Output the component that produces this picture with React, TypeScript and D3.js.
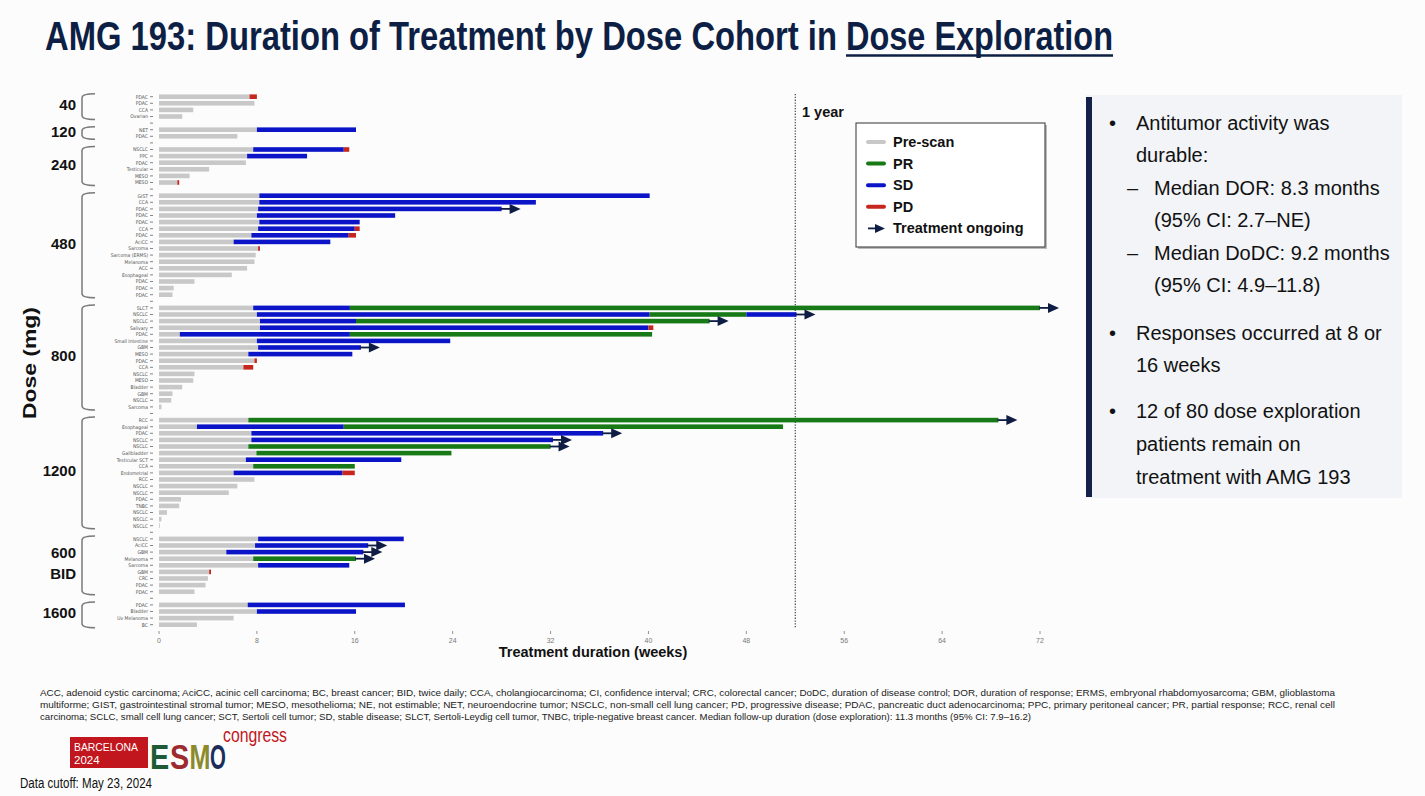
import React from "react";
import * as d3 from "d3";

type Seg = [string, number];
type Patient = [string, number, Seg[], boolean];

// [tumor type, pre-scan end (weeks), response segments [status, end week], treatment ongoing]
const dose40: Patient[] = [
  ["PDAC", 7.4, [["PD", 8.0]], false],
  ["PDAC", 7.8, [], false],
  ["CCA", 2.8, [], false],
  ["Ovarian", 1.9, [], false],
];
const dose120: Patient[] = [
  ["NET", 8.0, [["SD", 16.1]], false],
  ["PDAC", 6.4, [], false],
];
const dose240: Patient[] = [
  ["NSCLC", 7.7, [["SD", 15.1], ["PD", 15.55]], false],
  ["PPC", 7.2, [["SD", 12.1]], false],
  ["PDAC", 7.1, [], false],
  ["Testicular", 4.1, [], false],
  ["MESO", 2.5, [], false],
  ["MESO", 1.5, [["PD", 1.65]], false],
];
const dose480: Patient[] = [
  ["GIST", 8.2, [["SD", 40.1]], false],
  ["CCA", 8.2, [["SD", 30.8]], false],
  ["PDAC", 8.1, [["SD", 28.0]], true],
  ["PDAC", 8.0, [["SD", 19.3]], false],
  ["PDAC", 8.2, [["SD", 16.4]], false],
  ["CCA", 8.1, [["SD", 16.0], ["PD", 16.4]], false],
  ["PDAC", 7.55, [["SD", 15.5], ["PD", 16.1]], false],
  ["AciCC", 6.1, [["SD", 14.0]], false],
  ["Sarcoma", 8.1, [["PD", 8.25]], false],
  ["Sarcoma (ERMS)", 7.9, [], false],
  ["Melanoma", 7.8, [], false],
  ["ACC", 7.2, [], false],
  ["Esophageal", 5.95, [], false],
  ["PDAC", 2.9, [], false],
  ["PDAC", 1.2, [], false],
  ["PDAC", 1.1, [], false],
];
const dose800: Patient[] = [
  ["SLCT", 7.7, [["SD", 15.6], ["PR", 72.0]], true],
  ["NSCLC", 8.0, [["SD", 40.1], ["PR", 48.0], ["SD", 52.1]], true],
  ["NSCLC", 8.25, [["SD", 16.1], ["PR", 45.0]], true],
  ["Salivary", 8.25, [["SD", 40.0], ["PD", 40.4]], false],
  ["PDAC", 1.7, [["SD", 15.6], ["PR", 40.3]], false],
  ["Small Intestine", 8.0, [["SD", 23.8]], false],
  ["GBM", 8.1, [["SD", 16.5]], true],
  ["MESO", 7.3, [["SD", 15.8]], false],
  ["PDAC", 7.8, [["PD", 8.0]], false],
  ["CCA", 6.9, [["PD", 7.7]], false],
  ["NSCLC", 2.9, [], false],
  ["MESO", 2.8, [], false],
  ["Bladder", 1.9, [], false],
  ["GBM", 1.1, [], false],
  ["NSCLC", 1.0, [], false],
  ["Sarcoma", 0.2, [], false],
];
const dose1200: Patient[] = [
  ["RCC", 7.3, [["PR", 68.6]], true],
  ["Esophageal", 3.1, [["SD", 15.1], ["PR", 51.0]], false],
  ["PDAC", 7.55, [["SD", 36.3]], true],
  ["NSCLC", 7.55, [["SD", 32.2]], true],
  ["NSCLC", 7.3, [["PR", 32.0]], true],
  ["Gallbladder", 7.96, [["PR", 23.9]], false],
  ["Testicular SCT", 7.1, [["SD", 19.8]], false],
  ["CCA", 7.7, [["PR", 16.0]], false],
  ["Endometrial", 6.1, [["SD", 15.0], ["PD", 16.0]], false],
  ["RCC", 7.8, [], false],
  ["NSCLC", 6.4, [], false],
  ["NSCLC", 5.7, [], false],
  ["PDAC", 1.8, [], false],
  ["TNBC", 1.65, [], false],
  ["NSCLC", 0.65, [], false],
  ["NSCLC", 0.2, [], false],
  ["NSCLC", 0.05, [], false],
];
const dose600bid: Patient[] = [
  ["NSCLC", 8.1, [["SD", 20.0]], false],
  ["AciCC", 7.85, [["SD", 17.1]], true],
  ["GBM", 5.5, [["SD", 16.7]], true],
  ["Melanoma", 7.7, [["PR", 16.1]], true],
  ["Sarcoma", 8.1, [["SD", 15.55]], false],
  ["GBM", 4.1, [["PD", 4.25]], false],
  ["CRC", 4.0, [], false],
  ["PDAC", 3.8, [], false],
  ["PDAC", 2.9, [], false],
];
const dose1600: Patient[] = [
  ["PDAC", 7.25, [["SD", 20.1]], false],
  ["Bladder", 8.0, [["SD", 16.1]], false],
  ["Uv Melanoma", 6.1, [], false],
  ["BC", 3.1, [], false],
];

const cohortLabels: string[][] = [["40"], ["120"], ["240"], ["480"], ["800"], ["1200"], ["600", "BID"], ["1600"]];
const cohorts: Patient[][] = [dose40, dose120, dose240, dose480, dose800, dose1200, dose600bid, dose1600];

const weekTicks = [0, 8, 16, 24, 32, 40, 48, 56, 64, 72];
const oneYearWeeks = 52;

const legendLabels = ["Pre-scan", "PR", "SD", "PD", "Treatment ongoing"];
const legendKeys = ["Pre", "PR", "SD", "PD", "Arrow"];

const colors: Record<string, string> = {
  Pre: "#c8c8c8",
  PR: "#177a17",
  SD: "#0b14c6",
  PD: "#c6261d",
  Arrow: "#0f1d45",
};

const titleText = "AMG 193: Duration of Treatment by Dose Cohort in";
const titleUnderlined = "Dose Exploration";

const panelLines: [string, string, number][] = [
  ["bullet", "Antitumor activity was", 130],
  ["cont", "durable:", 162],
  ["dash", "Median DOR: 8.3 months", 195],
  ["cont2", "(95% CI: 2.7\u2013NE)", 227],
  ["dash", "Median DoDC: 9.2 months", 260],
  ["cont2", "(95% CI: 4.9\u201311.8)", 292],
  ["bullet", "Responses occurred at 8 or", 340],
  ["cont", "16 weeks", 372],
  ["bullet", "12 of 80 dose exploration", 418],
  ["cont", "patients remain on", 451],
  ["cont", "treatment with AMG 193", 484],
];

const footnotes = [
  "ACC, adenoid cystic carcinoma; AciCC, acinic cell carcinoma; BC, breast cancer; BID, twice daily; CCA, cholangiocarcinoma; CI, confidence interval; CRC, colorectal cancer; DoDC, duration of disease control; DOR, duration of response; ERMS, embryonal rhabdomyosarcoma; GBM, glioblastoma",
  "multiforme; GIST, gastrointestinal stromal tumor; MESO, mesothelioma; NE, not estimable; NET, neuroendocrine tumor; NSCLC, non-small cell lung cancer; PD, progressive disease; PDAC, pancreatic duct adenocarcinoma; PPC, primary peritoneal cancer; PR, partial response; RCC, renal cell",
  "carcinoma; SCLC, small cell lung cancer; SCT, Sertoli cell tumor; SD, stable disease; SLCT, Sertoli-Leydig cell tumor, TNBC, triple-negative breast cancer. Median follow-up duration (dose exploration): 11.3 months (95% CI: 7.9\u201316.2)",
];
const footnoteWidths = [1295, 1295, 991];

// letter, colour, x position, horizontal scale
const esmoLetters: [string, string, number, number][] = [
  ["E", "#1e5a36", 150, 1.2],
  ["S", "#9c2a2e", 170, 1.2],
  ["M", "#8b8a2c", 189.5, 1.05],
  ["O", "#1b2d5a", 210, 0.85],
];

const SANS = "'Liberation Sans', Arial, sans-serif";
const SMALL = "'DejaVu Sans Condensed', 'Liberation Sans', Arial, sans-serif";

type Row = { key: string; p: Patient | null; ci: number };

export default function App() {
  const rows: Row[] = [];
  cohorts.forEach((pts, ci) => {
    pts.forEach((p, i) => rows.push({ key: `${ci}-${i}`, p, ci }));
    if (ci < cohorts.length - 1) rows.push({ key: `gap-${ci}`, p: null, ci });
  });

  const x = d3.scaleLinear().domain([0, 72]).range([159, 1040]);
  const y = d3.scalePoint<string>().domain(rows.map((r) => r.key)).range([96.7, 624.7]);
  const barH = 4.6;

  const bars: JSX.Element[] = [];
  const arrows: JSX.Element[] = [];
  rows.forEach((r) => {
    if (!r.p) return;
    const [, pre, segs, ongoing] = r.p;
    const yc = y(r.key)!;
    bars.push(
      <rect key={r.key + "pre"} x={x(0)} y={yc - barH / 2} width={Math.max(0.8, x(pre) - x(0))} height={barH} fill={colors.Pre} />
    );
    let start = pre;
    segs.forEach(([s, end], j) => {
      bars.push(
        <rect key={r.key + "s" + j} x={x(start)} y={yc - barH / 2} width={Math.max(1, x(end) - x(start))} height={barH} fill={colors[s]} />
      );
      start = end;
    });
    if (ongoing) {
      const xe = x(start);
      arrows.push(
        <g key={r.key + "arr"}>
          <line x1={xe - 1} x2={xe + 10} y1={yc} y2={yc} stroke={colors.Arrow} strokeWidth={1.8} />
          <polygon points={`${xe + 8},${yc - 5} ${xe + 19},${yc} ${xe + 8},${yc + 5}`} fill={colors.Arrow} />
        </g>
      );
    }
  });

  const brackets = cohorts.map((pts, ci) => {
    const y1 = y(`${ci}-0`)! - 3;
    const y2 = y(`${ci}-${pts.length - 1}`)! + 3;
    const xl = 82;
    const xr = 95;
    const d = `M${xr},${y1} Q${xl},${y1} ${xl},${y1 + 4} L${xl},${y2 - 4} Q${xl},${y2} ${xr},${y2}`;
    const mid = (y1 + y2) / 2 - 2;
    const labs = cohortLabels[ci];
    return (
      <g key={"br" + ci}>
        <path d={d} fill="none" stroke="#7a7a7a" strokeWidth={1.5} />
        {labs.map((t, k) => (
          <text
            key={k}
            x={76}
            y={mid + 5.5 + (labs.length === 1 ? 0 : (k - 0.5) * 21)}
            textAnchor="end"
            fontFamily={SANS}
            fontWeight="bold"
            fontSize={15}
            fill="#111"
          >
            {t}
          </text>
        ))}
      </g>
    );
  });

  return (
    <svg
      width={1425}
      height={796}
      style={{ position: "absolute", left: 0, top: 0, display: "block", background: "#fcfcfc" }}
    >
      <rect x={0} y={0} width={1425} height={796} fill="#fcfcfc" />
      {/* Title */}
      <text
        transform="translate(45,50) scale(1,1.43)"
        fontFamily={SANS}
        fontWeight="bold"
        fontSize={28}
        fill="#0d1f44"
        textLength={792}
        lengthAdjust="spacingAndGlyphs"
      >
        {titleText}
      </text>
      <text
        transform="translate(846,50) scale(1,1.43)"
        fontFamily={SANS}
        fontWeight="bold"
        fontSize={28}
        fill="#0d1f44"
        textLength={267}
        lengthAdjust="spacingAndGlyphs"
      >
        {titleUnderlined}
      </text>
      <line x1={846} x2={1113} y1={55.5} y2={55.5} stroke="#0d1f44" strokeWidth={2.5} />

      {/* Row ticks & labels */}
      {rows.map((r) => {
        const yc = y(r.key)!;
        return (
          <g key={"t" + r.key}>
            <line x1={150} x2={153} y1={yc} y2={yc} stroke="#666" strokeWidth={0.8} />
            {r.p && (
              <text x={148} y={yc + 1.8} textAnchor="end" fontFamily={SMALL} fontSize={5} fill="#555">
                {r.p[0]}
              </text>
            )}
          </g>
        );
      })}

      {brackets}

      <text
        transform="translate(36,363) rotate(-90)"
        textAnchor="middle"
        fontFamily={SANS}
        fontWeight="bold"
        fontSize={18}
        fill="#111"
        textLength={112}
        lengthAdjust="spacingAndGlyphs"
      >
        Dose (mg)
      </text>

      {/* 1 year line */}
      <line x1={x(oneYearWeeks)} x2={x(oneYearWeeks)} y1={94} y2={628} stroke="#444" strokeWidth={1.2} strokeDasharray="1.3,1.5" />
      <text x={802} y={117} fontFamily={SANS} fontWeight="bold" fontSize={14.5} fill="#111">
        1 year
      </text>

      {bars}
      {arrows}

      {/* X axis */}
      {weekTicks.map((t) => (
        <g key={"xt" + t}>
          <line x1={x(t)} x2={x(t)} y1={631} y2={634} stroke="#777" strokeWidth={0.8} />
          <text x={x(t)} y={643} textAnchor="middle" fontFamily={SANS} fontSize={7} fill="#777">
            {t}
          </text>
        </g>
      ))}
      <text x={593} y={657} textAnchor="middle" fontFamily={SANS} fontWeight="bold" fontSize={14.5} fill="#111">
        Treatment duration (weeks)
      </text>

      {/* Legend */}
      <rect x={858} y={125} width={189} height={124} fill="#bbb" />
      <rect x={856} y={123} width={189} height={124} fill="#fff" stroke="#333" strokeWidth={1} />
      {legendLabels.map((lab, i) => {
        const ly = 142 + i * 21.6;
        const k = legendKeys[i];
        return (
          <g key={"lg" + i}>
            {k === "Arrow" ? (
              <g>
                <line x1={868} x2={878} y1={ly} y2={ly} stroke={colors.Arrow} strokeWidth={1.8} />
                <polygon points={`${875},${ly - 4.5} ${885},${ly} ${875},${ly + 4.5}`} fill={colors.Arrow} />
              </g>
            ) : (
              <line x1={868} x2={884} y1={ly} y2={ly} stroke={colors[k]} strokeWidth={4} strokeLinecap="round" />
            )}
            <text x={893} y={ly + 5} fontFamily={SANS} fontWeight="bold" fontSize={14.5} fill="#111">
              {lab}
            </text>
          </g>
        );
      })}

      {/* Right panel */}
      <rect x={1086} y={95} width={316} height={403} fill="#f2f4f7" />
      <rect x={1086} y={97} width={6} height={400} fill="#14224a" />
      {panelLines.map(([kind, txt, by], i) => (
        <g key={"pl" + i}>
          {kind === "bullet" && (
            <text x={1109} y={by} fontFamily={SANS} fontSize={20} fill="#111">
              {"\u2022"}
            </text>
          )}
          {kind === "dash" && (
            <text x={1127} y={by} fontFamily={SANS} fontSize={20} fill="#111">
              {"\u2013"}
            </text>
          )}
          <text x={kind === "bullet" || kind === "cont" ? 1136 : 1154} y={by} fontFamily={SANS} fontSize={20} fill="#111">
            {txt}
          </text>
        </g>
      ))}

      {/* Footnotes */}
      {footnotes.map((f, i) => (
        <text
          key={"fn" + i}
          x={40}
          y={695.5 + i * 12}
          fontFamily={SANS}
          fontSize={9.5}
          fill="#222"
          textLength={footnoteWidths[i]}
          lengthAdjust="spacingAndGlyphs"
        >
          {f}
        </text>
      ))}

      {/* Logo */}
      <rect x={70} y={737} width={78} height={31} fill="#c1161d" />
      <text x={74} y={751} fontFamily={SANS} fontSize={11.5} fill="#fff" textLength={64} lengthAdjust="spacingAndGlyphs">
        BARCELONA
      </text>
      <text x={74} y={764} fontFamily={SANS} fontSize={11.5} fill="#fff">
        2024
      </text>
      {esmoLetters.map(([ch, col, lx, sx]) => (
        <text
          key={ch}
          transform={`translate(${lx},769) scale(${sx},1.5)`}
          fontFamily={SANS}
          fontWeight="bold"
          fontSize={24}
          fill={col}
        >
          {ch}
        </text>
      ))}
      <text x={223} y={742} fontFamily={SANS} fontSize={20} fill="#c1161d" textLength={64} lengthAdjust="spacingAndGlyphs">
        congress
      </text>
      <text x={20} y={788} fontFamily={SANS} fontSize={14} fill="#111" textLength={132} lengthAdjust="spacingAndGlyphs">
        Data cutoff: May 23, 2024
      </text>
    </svg>
  );
}
